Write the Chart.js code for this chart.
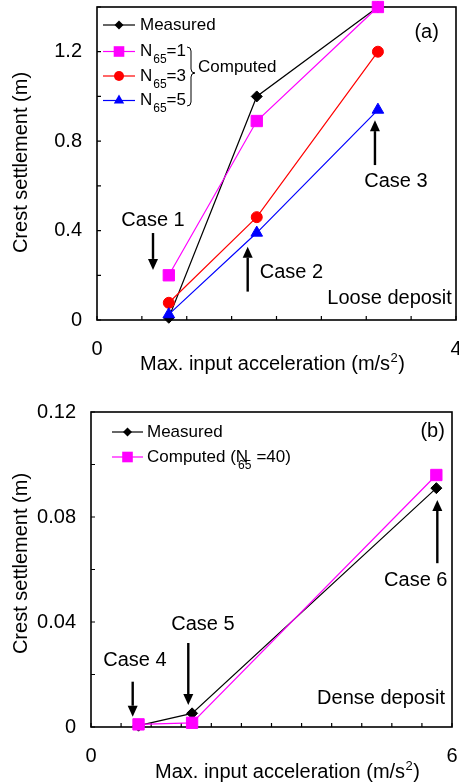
<!DOCTYPE html>
<html>
<head>
<meta charset="utf-8">
<script src="https://cdn.jsdelivr.net/npm/chart.js@4/dist/chart.umd.min.js"></script>
<style>
  html, body { margin: 0; padding: 0; background: #fff; overflow: hidden; }
  #wrap { position: relative; width: 459px; height: 784px; }
  .panel { position: absolute; left: 0; width: 459px; }
  .panel canvas { display: block; }
  #panelA { top: 0; height: 390px; }
  #panelB { top: 390px; height: 394px; }
</style>
</head>
<body>
<div id="wrap">
  <div class="panel" id="panelA"><canvas id="chart-loose"></canvas></div>
  <div class="panel" id="panelB"><canvas id="chart-dense"></canvas></div>
</div>
<script>
// ── Panel (a): loose deposit ────────────────────────────────────────────
const accelLoose    = [0.8, 1.78, 3.13];      // max. input acceleration (m/s2)
const measuredLoose = [0.01, 1.0, 1.4];
const n65One        = [0.2, 0.89, 1.4];
const n65Three      = [0.077, 0.46, 1.2];
const n65Five       = [0.025, 0.39, 0.94];
const xLabelsLoose  = [0, 4];
const yLabelsLoose  = [0, 0.4, 0.8, 1.2];

// ── Panel (b): dense deposit ────────────────────────────────────────────
const accelDense    = [0.79, 1.68, 5.74];
const measuredDense = [0.0005, 0.0052, 0.091];
const computedDense = [0.001, 0.0016, 0.096];
const xLabelsDense  = [0, 6];
const yLabelsDense  = [0, 0.04, 0.08, 0.12];

// ── Style tokens ────────────────────────────────────────────────────────
const INK     = "#000000";
const MAGENTA = "#ff00ff";
const RED     = "#ff0000";
const BLUE    = "#0000ff";
const FAMILY  = "'Liberation Sans', Arial, sans-serif";
const FS      = 20;
const LEG_FS  = 17;
const TICK    = 4;

Chart.defaults.font.family = FAMILY;
Chart.defaults.font.size   = FS;
Chart.defaults.color       = INK;

// ── Helpers ─────────────────────────────────────────────────────────────
function pts(xs, ys) {
  return xs.map((x, i) => ({ x, y: ys[i] }));
}

function pickLabel(list) {
  return (v) => {
    const hit = list.find(t => Math.abs(t - v) < 1e-9);
    return hit === undefined ? "" : String(hit);
  };
}

function series(label, xs, ys, color, style, radius, order) {
  return {
    label,
    data: pts(xs, ys),
    borderColor: color,
    backgroundColor: color,
    borderWidth: 1.2,
    pointStyle: style,
    pointRadius: radius,
    pointBorderWidth: 1,
    pointBackgroundColor: color,
    pointBorderColor: color,
    tension: 0,
    clip: false,
    order,
  };
}

function marker(ctx, style, x, y, r) {
  ctx.beginPath();
  if (style === "circle") {
    ctx.arc(x, y, r, 0, Math.PI * 2);
  } else if (style === "rect") {
    const s = r * Math.SQRT1_2;
    ctx.rect(x - s, y - s, 2 * s, 2 * s);
  } else if (style === "rectRot") {
    ctx.moveTo(x, y - r); ctx.lineTo(x + r, y); ctx.lineTo(x, y + r); ctx.lineTo(x - r, y);
    ctx.closePath();
  } else if (style === "triangle") {
    ctx.moveTo(x, y - r);
    ctx.lineTo(x + r * Math.sin(2 * Math.PI / 3), y - r * Math.cos(2 * Math.PI / 3));
    ctx.lineTo(x + r * Math.sin(4 * Math.PI / 3), y - r * Math.cos(4 * Math.PI / 3));
    ctx.closePath();
  }
  ctx.fill();
}

function arrow(ctx, x, y0, y1) {
  // shaft from y0 to tip at y1
  const dir = y1 > y0 ? 1 : -1;
  const head = 11, half = 5;
  ctx.beginPath();
  ctx.lineWidth = 2.4;
  ctx.moveTo(x, y0);
  ctx.lineTo(x, y1 - dir * head);
  ctx.stroke();
  ctx.beginPath();
  ctx.moveTo(x, y1);
  ctx.lineTo(x - half, y1 - dir * head);
  ctx.lineTo(x + half, y1 - dir * head);
  ctx.closePath();
  ctx.fill();
}

// ── Frame, inward ticks, legend, notes, titles ──────────────────────────
const panelDeco = {
  id: "panelDeco",
  beforeDatasetsDraw(chart, args, opts) {
    const { ctx, chartArea: a, scales: { x, y } } = chart;
    ctx.save();
    ctx.strokeStyle = INK;
    ctx.lineWidth = 1.6;
    ctx.strokeRect(a.left, a.top, a.right - a.left, a.bottom - a.top);
    ctx.lineWidth = 1.2;
    ctx.beginPath();
    x.ticks.forEach(t => {
      const px = x.getPixelForValue(t.value);
      ctx.moveTo(px, a.bottom); ctx.lineTo(px, a.bottom - TICK);
    });
    y.ticks.forEach(t => {
      const py = y.getPixelForValue(t.value);
      ctx.moveTo(a.left, py); ctx.lineTo(a.left + TICK, py);
    });
    ctx.stroke();
    ctx.restore();
  },
  afterDraw(chart, args, opts) {
    const { ctx, scales: { x, y } } = chart;
    const sets = chart.data.datasets;
    ctx.save();
    ctx.fillStyle = INK;
    ctx.strokeStyle = INK;

    // notes + arrows (data coords)
    ctx.font = `${FS}px ${FAMILY}`;
    ctx.textBaseline = "middle";
    (opts.notes || []).forEach(n => {
      ctx.textAlign = n.align || "center";
      ctx.fillText(n.text, x.getPixelForValue(n.x), y.getPixelForValue(n.y));
    });
    (opts.arrows || []).forEach(r => {
      arrow(ctx, x.getPixelForValue(r.x), y.getPixelForValue(r.from), y.getPixelForValue(r.to));
    });

    // legend
    const lg = opts.legend;
    lg.rows.forEach(row => {
      const ds = sets[row.ds];
      ctx.strokeStyle = ds.borderColor;
      ctx.fillStyle = ds.borderColor;
      ctx.lineWidth = 1.2;
      ctx.beginPath();
      ctx.moveTo(lg.x0, row.y); ctx.lineTo(lg.x1, row.y);
      ctx.stroke();
      marker(ctx, ds.pointStyle, (lg.x0 + lg.x1) / 2, row.y, row.r);
      ctx.fillStyle = INK;
      ctx.textAlign = "left";
      ctx.font = `${LEG_FS}px ${FAMILY}`;
      let tx = lg.tx;
      ctx.fillText(row.text, tx, row.y);
      tx += ctx.measureText(row.text).width;
      if (row.sub) {
        ctx.font = `12px ${FAMILY}`;
        const sx = tx + (row.subShift || 1);
        ctx.fillText(row.sub, sx, row.y + 8.5);
        tx = sx + ctx.measureText(row.sub).width + (row.gap || 0);
        ctx.font = `${LEG_FS}px ${FAMILY}`;
        ctx.fillText(row.tail, tx, row.y);
      }
    });
    if (lg.brace) {
      const b = lg.brace;
      ctx.strokeStyle = INK;
      ctx.lineWidth = 1;
      ctx.beginPath();
      ctx.moveTo(b.x, b.y0);
      ctx.quadraticCurveTo(b.x + 4, b.y0, b.x + 4, b.y0 + 4);
      ctx.lineTo(b.x + 4, b.ym - 4);
      ctx.quadraticCurveTo(b.x + 4, b.ym, b.x + 8, b.ym);
      ctx.quadraticCurveTo(b.x + 4, b.ym, b.x + 4, b.ym + 4);
      ctx.lineTo(b.x + 4, b.y1 - 4);
      ctx.quadraticCurveTo(b.x + 4, b.y1, b.x, b.y1);
      ctx.stroke();
      ctx.fillStyle = INK;
      ctx.font = `${LEG_FS}px ${FAMILY}`;
      ctx.textAlign = "left";
      ctx.fillText(b.text, b.tx, b.ty);
    }

    // x title with superscript
    const xt = opts.xTitle;
    ctx.fillStyle = INK;
    ctx.textAlign = "left";
    ctx.textBaseline = "alphabetic";
    ctx.font = `${FS}px ${FAMILY}`;
    const main = "Max. input acceleration (m/s";
    ctx.fillText(main, xt.x, xt.y);
    let cx = xt.x + ctx.measureText(main).width;
    ctx.font = `13px ${FAMILY}`;
    ctx.fillText("2", cx + 0.5, xt.y - 8);
    cx += ctx.measureText("2").width + 1;
    ctx.font = `${FS}px ${FAMILY}`;
    ctx.fillText(")", cx, xt.y);

    // y title
    const yt = opts.yTitle;
    ctx.translate(yt.x, yt.y);
    ctx.rotate(-Math.PI / 2);
    ctx.textAlign = "center";
    ctx.fillText("Crest settlement (m)", 0, 0);
    ctx.restore();
  },
};

function buildOptions(cfg) {
  return {
    responsive: true,
    maintainAspectRatio: false,
    animation: false,
    layout: { padding: cfg.padding, autoPadding: false },
    plugins: {
      legend: { display: false },
      tooltip: { enabled: false },
      panelDeco: cfg.deco,
    },
    scales: {
      x: {
        type: "linear",
        min: 0, max: cfg.xMax,
        grid: { display: false, drawTicks: false },
        border: { display: false },
        ticks: {
          stepSize: cfg.xStep, maxTicksLimit: 40, autoSkip: false, maxRotation: 0,
          padding: 17, color: INK, font: { size: FS },
          callback: pickLabel(cfg.xLabels),
        },
        afterFit: (s) => { s.height = cfg.xHeight; s.paddingLeft = 0; s.paddingRight = 0; },
      },
      y: {
        type: "linear",
        min: 0, max: cfg.yMax,
        grid: { display: false, drawTicks: false },
        border: { display: false },
        ticks: {
          stepSize: cfg.yStep, maxTicksLimit: 40, autoSkip: false,
          padding: 15, color: INK, font: { size: FS },
          callback: pickLabel(cfg.yLabels),
        },
        afterFit: (s) => { s.width = cfg.yWidth; s.paddingTop = 0; s.paddingBottom = 0; },
      },
    },
  };
}

// ── Chart (a) ───────────────────────────────────────────────────────────
new Chart(document.getElementById("chart-loose"), {
  type: "line",
  data: {
    datasets: [
      series("Measured", accelLoose, measuredLoose, INK, "rectRot", 5.5, 4),
      series("N65=1", accelLoose, n65One, MAGENTA, "rect", 8, 3),
      series("N65=3", accelLoose, n65Three, RED, "circle", 5.5, 2),
      series("N65=5", accelLoose, n65Five, BLUE, "triangle", 6.7, 1),
    ],
  },
  options: buildOptions({
    padding: { top: 7, right: 3, left: 0, bottom: 0 },
    xMax: 4, xStep: 0.5, xLabels: xLabelsLoose, xHeight: 70,
    yMax: 1.4, yStep: 0.2, yLabels: yLabelsLoose, yWidth: 97,
    deco: {
      notes: [
        { text: "Case 1", x: 0.624, y: 0.447 },
        { text: "Case 2", x: 2.167, y: 0.212 },
        { text: "Case 3", x: 3.331, y: 0.619 },
        { text: "Loose deposit", x: 3.954, y: 0.097, align: "right" },
        { text: "(a)", x: 3.673, y: 1.284 },
      ],
      arrows: [
        { x: 0.624, from: 0.389, to: 0.224 },
        { x: 1.679, from: 0.127, to: 0.328 },
        { x: 3.097, from: 0.693, to: 0.894 },
      ],
      legend: {
        x0: 103, x1: 135, tx: 140,
        rows: [
          { ds: 0, y: 25, r: 4.5, text: "Measured" },
          { ds: 1, y: 51.5, r: 7.5, text: "N", sub: "65", tail: "=1" },
          { ds: 2, y: 76, r: 5, text: "N", sub: "65", tail: "=3" },
          { ds: 3, y: 100.5, r: 6, text: "N", sub: "65", tail: "=5" },
        ],
        brace: { x: 187, y0: 47, ym: 73, y1: 106, text: "Computed", tx: 198, ty: 67 },
      },
      xTitle: { x: 140, y: 370 },
      yTitle: { x: 27, y: 162.5 },
    },
  }),
  plugins: [panelDeco],
});

// ── Chart (b) ───────────────────────────────────────────────────────────
new Chart(document.getElementById("chart-dense"), {
  type: "line",
  data: {
    datasets: [
      series("Measured", accelDense, measuredDense, INK, "rectRot", 5.5, 2),
      series("Computed (N65 =40)", accelDense, computedDense, MAGENTA, "rect", 8, 1),
    ],
  },
  options: buildOptions({
    padding: { top: 22, right: 7, left: 0, bottom: 0 },
    xMax: 6, xStep: 0.5, xLabels: xLabelsDense, xHeight: 57,
    yMax: 0.12, yStep: 0.02, yLabels: yLabelsDense, yWidth: 91,
    deco: {
      notes: [
        { text: "Case 4", x: 0.731, y: 0.0255 },
        { text: "Case 5", x: 1.861, y: 0.0392 },
        { text: "Case 6", x: 5.398, y: 0.0558 },
        { text: "Dense deposit", x: 5.883, y: 0.0109, align: "right" },
        { text: "(b)", x: 5.678, y: 0.1124 },
      ],
      arrows: [
        { x: 0.693, from: 0.01726, to: 0.00392 },
        { x: 1.617, from: 0.032, to: 0.00838 },
        { x: 5.756, from: 0.0624, to: 0.0865 },
      ],
      legend: {
        x0: 112, x1: 143, tx: 147,
        rows: [
          { ds: 0, y: 42, r: 4.5, text: "Measured" },
          { ds: 1, y: 67, r: 7.5, text: "Computed (N", sub: "65", tail: "=40)", subShift: -10, gap: 5 },
        ],
      },
      xTitle: { x: 155, y: 388 },
      yTitle: { x: 27, y: 173.5 },
    },
  }),
  plugins: [panelDeco],
});
</script>
</body>
</html>
